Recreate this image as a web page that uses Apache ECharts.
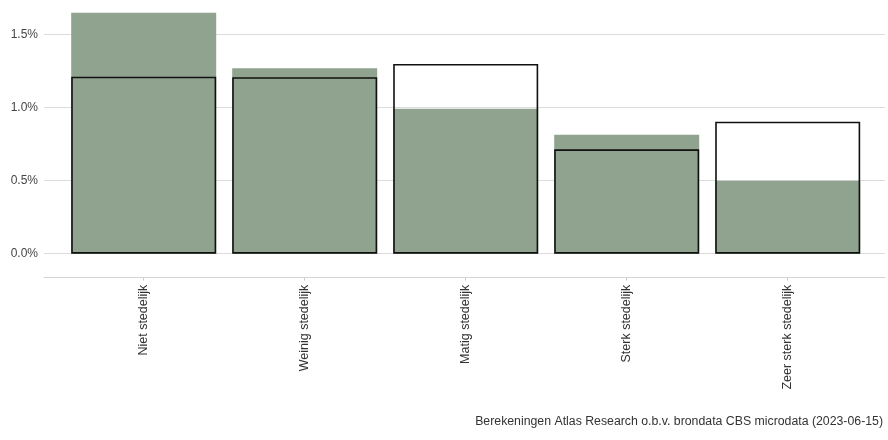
<!DOCTYPE html>
<html>
<head>
<meta charset="utf-8">
<script src="https://cdn.jsdelivr.net/npm/echarts@6/dist/echarts.min.js"></script>
<style>
html,body{margin:0;padding:0;background:#fff;}
#chart{width:888px;height:440px;}
</style>
</head>
<body>
<div id="chart"></div>
<script>
// Data
const categories = ['Niet stedelijk', 'Weinig stedelijk', 'Matig stedelijk', 'Sterk stedelijk', 'Zeer sterk stedelijk'];
const filledValues = [1.648, 1.268, 0.992, 0.814, 0.499];
const outlineValues = [1.211, 1.207, 1.298, 0.714, 0.903];
const yTicks = [0, 0.5, 1.0, 1.5];
const caption = 'Berekeningen Atlas Research o.b.v. brondata CBS microdata (2023-06-15)';

const FONT = '"Liberation Sans", Arial, sans-serif';
const Y_MAX = 1.7;
const gridTop = 5.2, gridBottom = 186.3;

const chart = echarts.init(document.getElementById('chart'), null, {renderer: 'canvas'});
chart.setOption({
  animation: false,
  backgroundColor: '#ffffff',
  title: {
    text: caption,
    right: 0,
    top: 411,
    textStyle: {fontFamily: FONT, fontSize: 12.3, fontWeight: 'normal', color: '#333'}
  },
  grid: [
    {left: 44, right: 3, top: gridTop, bottom: gridBottom},
    {left: 63.2, right: 19.8, top: gridTop, bottom: gridBottom}
  ],
  xAxis: [
    {
      gridIndex: 0, type: 'category', data: categories,
      offset: 24,
      axisLine: {show: true, onZero: false, lineStyle: {color: '#d4d4d4', width: 1.2}},
      axisTick: {show: false}, axisLabel: {show: false}, splitLine: {show: false}
    },
    {
      gridIndex: 1, type: 'category', data: categories,
      offset: 24,
      axisLine: {show: false, onZero: false},
      axisTick: {show: true, length: 3, alignWithLabel: true, lineStyle: {color: '#cccccc'}},
      axisLabel: {rotate: 90, margin: 7, fontFamily: FONT, fontSize: 12.5, color: '#333'},
      splitLine: {show: false}
    }
  ],
  yAxis: [
    {
      gridIndex: 0, type: 'value', min: 0, max: Y_MAX, interval: 0.5,
      axisLine: {show: false}, axisTick: {show: false},
      axisLabel: {
        margin: 6, fontFamily: FONT, fontSize: 12, color: '#444', showMaxLabel: false,
        formatter: v => (yTicks.indexOf(Math.round(v * 10) / 10) >= 0 && Math.abs(v * 2 - Math.round(v * 2)) < 1e-6 ? v.toFixed(1) + '%' : '')
      },
      splitLine: {show: true, showMaxLine: false, lineStyle: {color: '#dcdcdc', width: 1.2}}
    },
    {
      gridIndex: 1, type: 'value', min: 0, max: Y_MAX, interval: 0.5,
      show: false, splitLine: {show: false}
    }
  ],
  series: [
    {
      type: 'bar', xAxisIndex: 1, yAxisIndex: 1,
      data: filledValues, barWidth: 145, barGap: '-100%',
      itemStyle: {color: '#8fa38e'}
    },
    {
      type: 'bar', xAxisIndex: 1, yAxisIndex: 1,
      data: outlineValues, barWidth: 145, barGap: '-100%',
      itemStyle: {color: 'rgba(0,0,0,0)', borderColor: '#111', borderWidth: 1.6}
    }
  ]
});
</script>
</body>
</html>
